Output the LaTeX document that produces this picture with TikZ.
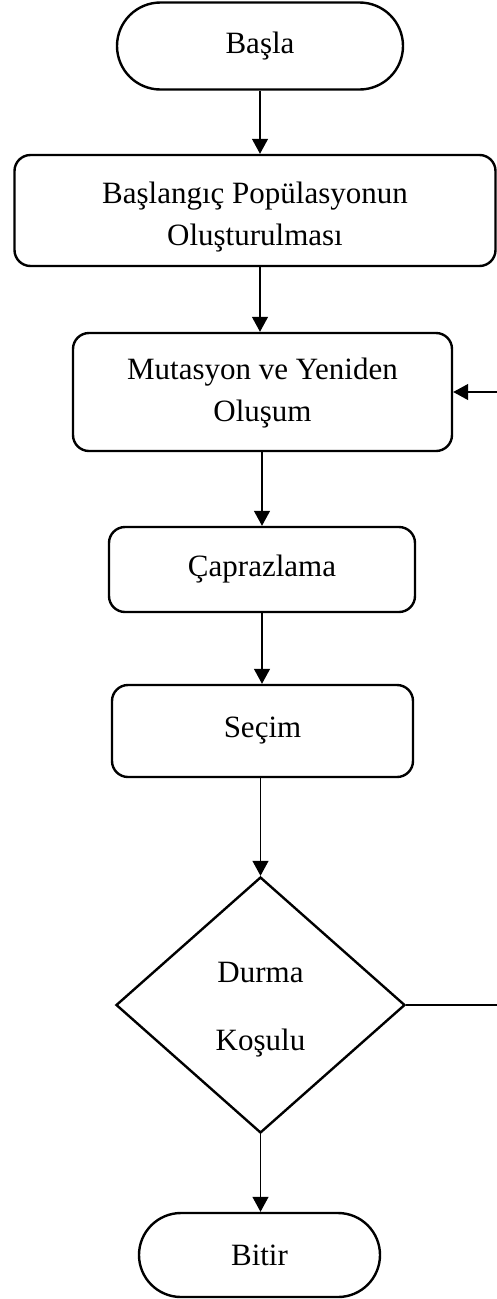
\documentclass[tikz,border=0pt]{standalone}
\usepackage{fontspec}
\setmainfont{Liberation Serif}
\usetikzlibrary{shapes.misc,shapes.geometric,arrows.meta}

\tikzset{
  flow/.style={draw=black, line width=2.4pt, inner sep=0pt, align=center,
    font=\fontsize{31}{42}\selectfont},
  term/.style={flow, rounded rectangle},
  procbox/.style={flow, rectangle, rounded corners=16pt},
  decide/.style={flow, diamond},
  link/.style={draw=black, line width=1.2pt,
    -{Triangle[length=15pt,width=16pt]}},
}
% lower a block of lines inside its node without changing the node size
\newcommand{\lowerby}[2]{\raisebox{-#1}[\height][\depth]{\begin{tabular}{@{}c@{}}#2\end{tabular}}}

\begin{document}
\begin{tikzpicture}[x=1pt, y=-1pt]
  \useasboundingbox (0,0) rectangle (497,1299);
  \clip (0,0) rectangle (497,1299);

  % nodes of the flow chart
  \node[term, minimum width=286pt, minimum height=87pt] (start) at (260,46) {Başla};
  \node[procbox, minimum width=481pt, minimum height=111pt] (init) at (255,210.5)
    {\lowerby{6pt}{Başlangıç Popülasyonun\\Oluşturulması}};
  \node[procbox, minimum width=379pt, minimum height=118pt] (mut) at (262.5,392)
    {\lowerby{0pt}{Mutasyon ve Yeniden\\Oluşum}};
  \node[procbox, minimum width=306pt, minimum height=85pt] (cross) at (262,569.5) {Çaprazlama};
  \node[procbox, minimum width=301pt, minimum height=92pt] (sel) at (262.5,731) {Seçim};
  \node[decide, minimum width=289pt, minimum height=256pt] (cond) at (260.5,1005)
    {\lowerby{3pt}{Durma\\[26pt]Koşulu}};
  \node[term, minimum width=241pt, minimum height=84pt] (stop) at (259.5,1255) {Bitir};

  % return path runs just past the right margin
  \coordinate (rt) at (503,0);

  % connectors
  \draw[link] (start.south) -- (start.south |- init.north);
  \draw[link] (init.south -| start.south) -- (start.south |- mut.north);
  \draw[link] (mut.south -| cross.north) -- (cross.north);
  \draw[link] (cross.south) -- (cross.south |- sel.north);
  \draw[link] (sel.south -| cond.north) -- (cond.north);
  \draw[link] (cond.south) -- (cond.south |- stop.north);
  \draw[link] (cond.east) -- (cond.east -| rt) -- (rt |- mut.east) -- (mut.east);
\end{tikzpicture}
\end{document}
